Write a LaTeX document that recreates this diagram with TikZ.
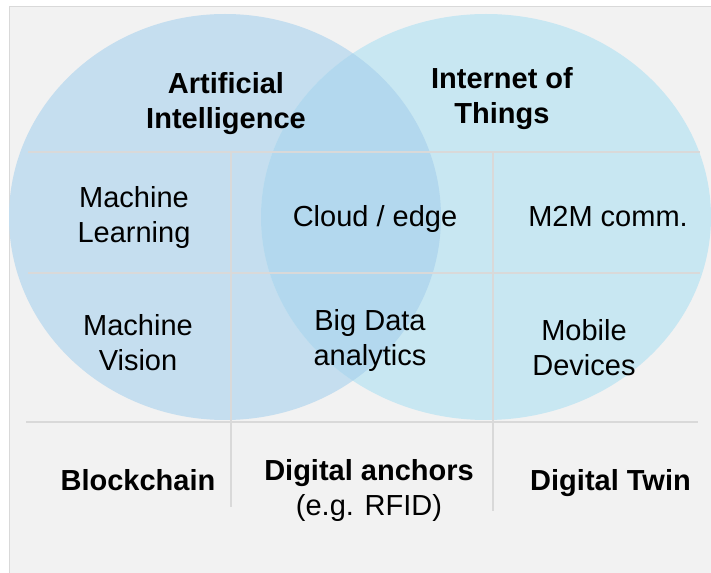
\documentclass[tikz,border=0pt]{standalone}
\usepackage{fontspec}
\setmainfont{Liberation Sans}
\definecolor{panelbg}{HTML}{F2F2F2}
\definecolor{panelborder}{HTML}{D9D9D9}
\definecolor{aifill}{HTML}{C5DEEF}
\definecolor{iotfill}{HTML}{C8E7F2}
\definecolor{bothfill}{HTML}{B3D8EE}
\definecolor{gridcol}{HTML}{D9D9D9}
\tikzset{
  lbl/.style={inner sep=0pt, align=center, font=\fontsize{21.75}{26.25}\selectfont, text=black},
  blbl/.style={lbl, font=\fontsize{21.75}{26.25}\selectfont\bfseries},
  gridline/.style={draw=gridcol, line width=1.1pt}
}
\begin{document}
\begin{tikzpicture}[x=0.75pt,y=-0.75pt]
\useasboundingbox (0,0) rectangle (711,573);
% panel
\fill[white] (0,0) rectangle (711,573);
\draw[panelborder, fill=panelbg, line width=1pt] (9.5,6.5) rectangle (730,590);
% circles
\fill[aifill] (225,217) ellipse [x radius=216, y radius=203];
\fill[iotfill] (486,217) ellipse [x radius=225, y radius=203];
\begin{scope}
  \clip (225,217) ellipse [x radius=216, y radius=203];
  \fill[bothfill] (486,217) ellipse [x radius=225, y radius=203];
\end{scope}
% grid
\coordinate (h1l) at (28,152); \coordinate (h1r) at (700,152);
\coordinate (h2l) at (28,273); \coordinate (h2r) at (700,273);
\coordinate (h3l) at (26,422); \coordinate (h3r) at (698,422);
\coordinate (v1t) at (231,152); \coordinate (v1b) at (231,507);
\coordinate (v2t) at (493,152); \coordinate (v2b) at (493,511);
\draw[gridline] (h1l) -- (h1r);
\draw[gridline] (h2l) -- (h2r);
\draw[gridline] (h3l) -- (h3r);
\draw[gridline] (v1t) -- (v1b);
\draw[gridline] (v2t) -- (v2b);
% labels
\node[blbl, anchor=base] (ai) at (226,129) {Artificial\\Intelligence};
\node[blbl, anchor=base] (iot) at (502,124) {Internet of\\Things};
\node[lbl, anchor=base] (ml) at (134,243) {Machine\\Learning};
\node[lbl, anchor=base] (cloud) at (375,227) {Cloud / edge};
\node[lbl, anchor=base] (m2m) at (608,227) {M2M comm.};
\node[lbl, anchor=base] (mv) at (138,371) {Machine\\Vision};
\node[lbl, anchor=base] (bd) at (370,365.5) {Big Data\\analytics};
\node[lbl, anchor=base] (mob) at (584,376) {Mobile\\Devices};
\node[blbl, anchor=base] (bc) at (138,490.5) {Blockchain};
\node[lbl, anchor=base] (da) at (369,516) {\textbf{Digital anchors}\\(e.g. RFID)};
\node[blbl, anchor=base] (dt) at (610.5,490.5) {Digital Twin};
\end{tikzpicture}
\end{document}
